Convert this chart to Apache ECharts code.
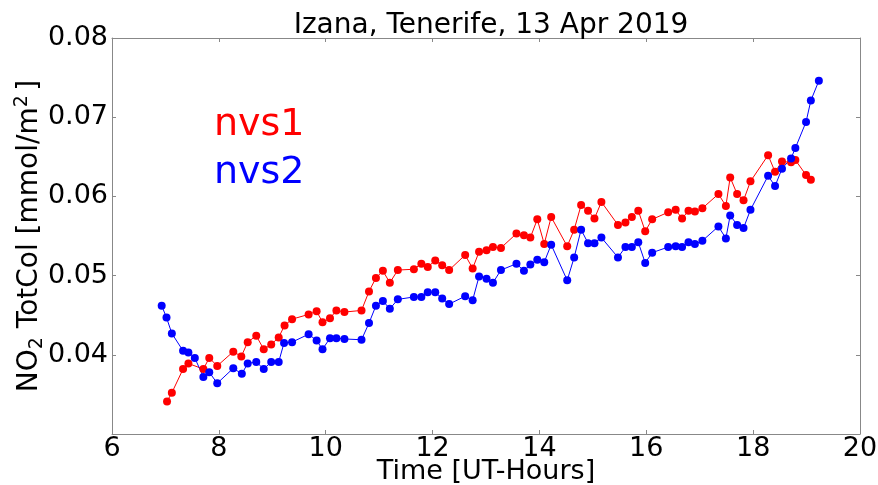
<!DOCTYPE html>
<html>
<head>
<meta charset="utf-8">
<script src="https://cdn.jsdelivr.net/npm/echarts@6/dist/echarts.min.js"></script>
<style>
  html, body { margin: 0; padding: 0; background: #fff; }
  #chart { width: 878px; height: 485px; }
</style>
</head>
<body>
<div id="chart"></div>
<script>
// hours (UT) and NO2 total column values
var nvs1Time = [7.03, 7.12, 7.33, 7.43, 7.71, 7.82, 7.97, 8.27, 8.42, 8.54, 8.70, 8.84, 8.98, 9.12, 9.23, 9.37, 9.68, 9.83, 9.94, 10.08, 10.20, 10.35, 10.67, 10.81, 10.94, 11.07, 11.20, 11.35, 11.65, 11.79, 11.91, 12.05, 12.18, 12.31, 12.61, 12.75, 12.87, 13.01, 13.13, 13.28, 13.57, 13.71, 13.83, 13.96, 14.09, 14.22, 14.52, 14.65, 14.78, 14.91, 15.03, 15.16, 15.47, 15.61, 15.73, 15.85, 15.98, 16.11, 16.41, 16.55, 16.67, 16.79, 16.91, 17.05, 17.35, 17.49, 17.57, 17.70, 17.82, 17.95, 18.28, 18.41, 18.54, 18.71, 18.79, 18.99, 19.08]
var nvs1 = [0.0341, 0.0352, 0.0382, 0.0389, 0.0382, 0.0396, 0.0386, 0.0404, 0.0398, 0.0416, 0.0424, 0.0407, 0.0413, 0.0422, 0.0437, 0.0445, 0.0451, 0.0455, 0.0441, 0.0446, 0.0456, 0.0454, 0.0456, 0.0480, 0.0497, 0.0506, 0.0491, 0.0507, 0.0508, 0.0515, 0.0511, 0.0519, 0.0513, 0.0507, 0.0526, 0.0509, 0.0530, 0.0532, 0.0536, 0.0535, 0.0553, 0.0551, 0.0548, 0.0571, 0.0540, 0.0574, 0.0537, 0.0558, 0.0589, 0.0582, 0.0572, 0.0593, 0.0564, 0.0567, 0.0574, 0.0582, 0.0556, 0.0571, 0.0580, 0.0583, 0.0572, 0.0582, 0.0581, 0.0585, 0.0603, 0.0588, 0.0624, 0.0603, 0.0595, 0.0619, 0.0652, 0.0631, 0.0644, 0.0643, 0.0646, 0.0627, 0.0621]
var nvs2Time = [6.93, 7.02, 7.12, 7.33, 7.43, 7.55, 7.71, 7.82, 7.97, 8.27, 8.43, 8.54, 8.70, 8.84, 8.98, 9.12, 9.22, 9.37, 9.68, 9.83, 9.94, 10.08, 10.20, 10.35, 10.67, 10.81, 10.94, 11.07, 11.20, 11.35, 11.65, 11.79, 11.91, 12.05, 12.18, 12.31, 12.61, 12.75, 12.87, 13.01, 13.13, 13.28, 13.57, 13.71, 13.83, 13.96, 14.09, 14.22, 14.52, 14.65, 14.78, 14.91, 15.03, 15.16, 15.47, 15.61, 15.73, 15.85, 15.98, 16.11, 16.41, 16.55, 16.67, 16.79, 16.91, 17.05, 17.35, 17.49, 17.57, 17.70, 17.82, 17.95, 18.28, 18.41, 18.54, 18.71, 18.79, 18.99, 19.08, 19.23]
var nvs2 = [0.0462, 0.0447, 0.0427, 0.0405, 0.0403, 0.0396, 0.0372, 0.0378, 0.0364, 0.0383, 0.0376, 0.0389, 0.0391, 0.0382, 0.0391, 0.0391, 0.0415, 0.0416, 0.0426, 0.0418, 0.0407, 0.0421, 0.0421, 0.0420, 0.0419, 0.0440, 0.0462, 0.0468, 0.0458, 0.0470, 0.0473, 0.0473, 0.0479, 0.0479, 0.0471, 0.0464, 0.0474, 0.0469, 0.0499, 0.0496, 0.0491, 0.0507, 0.0515, 0.0506, 0.0514, 0.0520, 0.0517, 0.0539, 0.0494, 0.0523, 0.0558, 0.0541, 0.0541, 0.0548, 0.0523, 0.0536, 0.0536, 0.0542, 0.0516, 0.0529, 0.0536, 0.0537, 0.0536, 0.0542, 0.0540, 0.0544, 0.0562, 0.0547, 0.0576, 0.0564, 0.0560, 0.0583, 0.0626, 0.0613, 0.0635, 0.0648, 0.0661, 0.0694, 0.0721, 0.0746]

var FONT = 'DejaVu Sans, sans-serif'
var chart = echarts.init(document.getElementById('chart'))

function pairs (xs, ys) {
  return xs.map((x, i) => [x, ys[i]])
}

var frameAxis = {
  axisLine: { show: true, lineStyle: { color: '#888', width: 1 } },
  axisTick: { show: true, inside: true, length: 4, lineStyle: { color: '#888' } },
  splitLine: { show: false }
}

chart.setOption({
  animation: false,
  title: {
    text: 'Izana, Tenerife, 13 Apr 2019',
    left: 486,
    top: 7,
    textAlign: 'center',
    textStyle: { fontFamily: FONT, fontSize: 28, fontWeight: 'normal', color: '#000' }
  },
  grid: { left: 112, right: 18, top: 38, bottom: 51, outerBoundsMode: 'none', containLabel: false },
  xAxis: [
    Object.assign({
      type: 'value', min: 6, max: 20, interval: 2,
      name: 'Time [UT-Hours]', nameLocation: 'middle', nameGap: 24, nameMoveOverlap: false,
      nameTextStyle: { fontFamily: FONT, fontSize: 27, color: '#000' },
      axisLabel: { fontFamily: FONT, fontSize: 27, color: '#000', margin: 1 }
    }, frameAxis),
    Object.assign({
      type: 'value', min: 6, max: 20, interval: 2, position: 'top',
      axisLabel: { show: false }
    }, frameAxis)
  ],
  yAxis: [
    Object.assign({
      type: 'value', min: 0.03, max: 0.08, interval: 0.01,
      name: '{a|NO}{s|2}{a| TotCol [mmol/m}{p|2}{t| }{a|]}', nameLocation: 'middle', nameGap: 65, nameMoveOverlap: false,
      nameTextStyle: {
        fontFamily: FONT, fontSize: 28, color: '#000',
        rich: {
          a: { fontFamily: FONT, fontSize: 28, lineHeight: 34, color: '#000' },
          s: { fontFamily: FONT, fontSize: 19, lineHeight: 19, verticalAlign: 'bottom', color: '#000' },
          p: { fontFamily: FONT, fontSize: 19, lineHeight: 19, verticalAlign: 'top', color: '#000' },
          t: { fontFamily: FONT, fontSize: 14, lineHeight: 14, color: '#000' }
        }
      },
      axisLabel: {
        fontFamily: FONT, fontSize: 27, color: '#000', margin: 4,
        formatter: v => (Math.abs(v - 0.03) < 1e-9 ? '' : v.toFixed(2))
      }
    }, frameAxis),
    Object.assign({
      type: 'value', min: 0.03, max: 0.08, interval: 0.01, position: 'right',
      axisLabel: { show: false }
    }, frameAxis)
  ],
  graphic: [
    { type: 'text', left: 214, top: 106, style: { text: 'nvs1', fill: '#ff0000', font: '38px ' + FONT } },
    { type: 'text', left: 214, top: 154, style: { text: 'nvs2', fill: '#0000ff', font: '38px ' + FONT } }
  ],
  series: [
    {
      name: 'nvs1', type: 'line', data: pairs(nvs1Time, nvs1),
      symbol: 'circle', symbolSize: 8, color: '#ff0000',
      lineStyle: { width: 1, color: '#ff0000' }, itemStyle: { color: '#ff0000' }
    },
    {
      name: 'nvs2', type: 'line', data: pairs(nvs2Time, nvs2),
      symbol: 'circle', symbolSize: 8, color: '#0000ff',
      lineStyle: { width: 1, color: '#0000ff' }, itemStyle: { color: '#0000ff' }
    }
  ]
})
</script>
</body>
</html>
